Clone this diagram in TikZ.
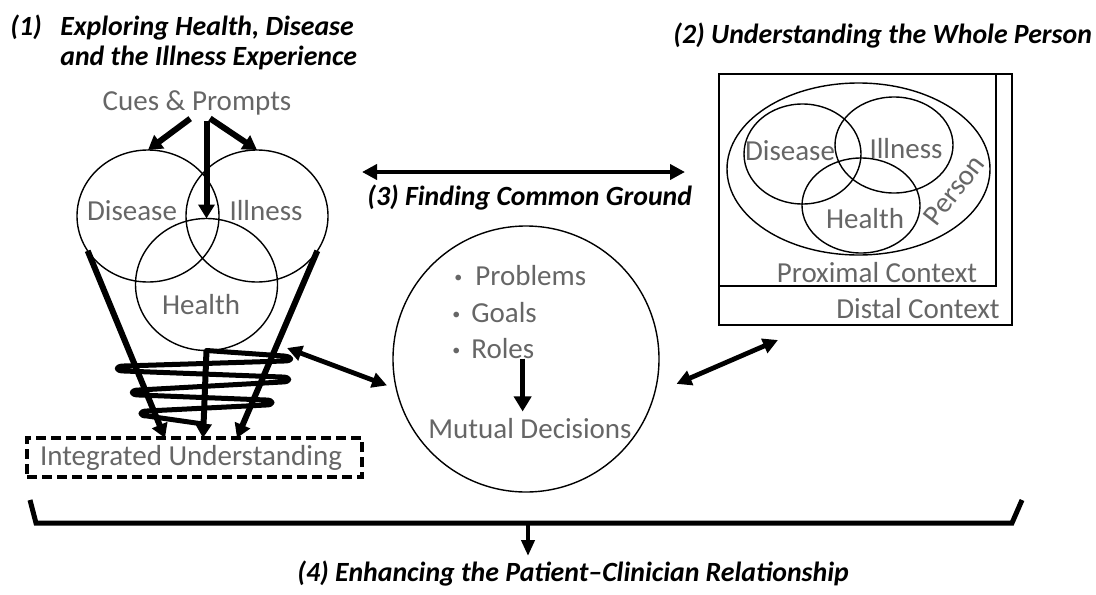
\documentclass[tikz,border=0pt]{standalone}
\usepackage{fontspec}
\setmainfont{Carlito}
\usetikzlibrary{arrows.meta,shapes.geometric,calc}

\definecolor{txtgray}{gray}{0.40}
\newcommand*{\lblfont}{\fontsize{14.5}{17}\selectfont}
\newcommand*{\ttlfont}{\fontsize{13.9}{16}\selectfont\bfseries\itshape}
\newcommand*{\bul}{{\fontsize{8}{8}\selectfont\raisebox{1.3pt}{•}}}

\begin{document}
\begin{tikzpicture}[x=0.5pt,y=-0.5pt,
	lbl/.style={text=txtgray,font=\lblfont,anchor=base,inner sep=0pt},
	ttl/.style={font=\ttlfont,anchor=base west,inner sep=0pt},
	venn/.style={draw,ellipse,inner sep=0pt,outer sep=0pt,line width=0.7pt},
	fat/.style={line width=3pt,-{Triangle[length=7pt,width=8pt]}},
	dbl/.style={line width=2.4pt,{Triangle[length=7.5pt,width=7.5pt]}-{Triangle[length=7.5pt,width=7.5pt]}},
	coil/.style={line width=2.5pt,line cap=round,line join=round}]

	\useasboundingbox (0,0) rectangle (1096,594);

	% titles
	\node[ttl] (t1num) at (10,35) {(1)};
	\node[ttl] (t1a) at (60,35) {Exploring Health, Disease};
	\node[ttl] (t1b) at (60,65) {and the Illness Experience};
	\node[ttl] (t2) at (673,43) {(2) Understanding the Whole Person};
	\node[ttl] (t3) at (367,205) {(3) Finding Common Ground};
	\node[ttl] (t4) at (297,581) {(4) Enhancing the Patient–Clinician Relationship};

	% (1) left venn
	\node[lbl] (cues) at (197,110) {Cues \& Prompts};
	\node[venn,minimum width=71pt,minimum height=66pt] (disL) at (148,216) {};
	\node[venn,minimum width=71pt,minimum height=66pt] (illL) at (257,216) {};
	\node[venn,minimum width=71pt,minimum height=66pt] (heaL) at (206.5,284.5) {};
	\node[lbl] (disLt) at (132,220) {Disease};
	\node[lbl] (illLt) at (266,220) {Illness};
	\node[lbl] (heaLt) at (201,314) {Health};

	\draw[fat,shorten <=3pt] ([xshift=-1pt]cues.south) -- (disL.north);
	\draw[fat,shorten <=3pt] ([xshift=4pt]cues.south) -- (illL.north);
	\draw[fat,shorten <=3pt] (heaL.north |- cues.south) -- (heaL.north);

	\node[draw,dashed,dash pattern=on 5pt off 2.5pt,line width=1.7pt,minimum width=167.5pt,minimum height=19.5pt,inner sep=0pt] (integ) at (194.5,457.5) {};
	\node[lbl] (integt) at (191,465) {Integrated Understanding};

	\coordinate (tipL) at (165,438);
	\coordinate (tipM) at (203,438);
	\coordinate (tipR) at (237,438);
	\draw[fat] (disL.210) -- (tipL);
	\draw[fat] (illL.-30) -- (tipR);
	\draw[coil] (heaL.south) -- (284,356) .. controls (293,357) and (293,361) .. (284,361)
		-- (124,366) .. controls (115,366) and (115,371) .. (124,371)
		-- (282,377) .. controls (291,377) and (291,382) .. (282,382)
		-- (139,390) .. controls (130,390) and (130,395) .. (139,395)
		-- (266,400) .. controls (274,400) and (274,405) .. (266,405)
		-- (147,411) .. controls (139,411) and (139,416) .. (147,416)
		-- (203,424);
	\draw[fat] (heaL.south) -- (tipM);

	% (3) common ground
	\node[draw,circle,line width=0.7pt,minimum size=133pt,inner sep=0pt,outer sep=0pt] (mid) at (526,359) {};
	\node[lbl,anchor=base west] (prob) at (454,285) {\bul\hspace{6.5pt}Problems};
	\node[lbl,anchor=base west] (goal) at (452,322) {\bul\hspace{5.5pt}Goals};
	\node[lbl,anchor=base west] (role) at (452,358) {\bul\hspace{5.5pt}Roles};
	\node[lbl] (mutual) at (530,438) {Mutual Decisions};
	\draw[line width=2.5pt,-{Triangle[length=7.5pt,width=8.5pt]},shorten >=3pt] ([xshift=-6pt]role.south east) -- ([xshift=-6pt]role.south east |- mutual.north);

	\coordinate (gl) at (362,172);
	\coordinate (gr) at (685,172);
	\draw[dbl] (gl) -- (gr);
	\coordinate (spiralE) at (287,348);
	\coordinate (boxSW) at (778,340);
	\draw[dbl,shorten >=5pt] (spiralE) -- (mid.193);
	\draw[dbl,shorten <=12pt] (mid.-15) -- (boxSW);

	% (2) whole person
	\draw[line width=0.7pt] (719,74) rectangle (1012,325);
	\draw[line width=0.7pt] (719,74) rectangle (996,286);
	\node[venn,minimum width=131.5pt,minimum height=86pt] (person) at (858.5,169) {};
	\node[venn,minimum width=58.5pt,minimum height=50pt] (disR) at (802.5,154) {};
	\node[venn,minimum width=59pt,minimum height=48pt] (illR) at (894,145) {};
	\node[venn,minimum width=59pt,minimum height=47.5pt] (heaR) at (861,205.5) {};
	\node[lbl] (disRt) at (790,160) {Disease};
	\node[lbl] (illRt) at (906,158) {Illness};
	\node[lbl] (heaRt) at (865,228) {Health};
	\node[lbl,anchor=center,rotate=52] (persont) at (954,190) {Person};
	\node[lbl] (proxt) at (877,282) {Proximal Context};
	\node[lbl] (distt) at (918,318) {Distal Context};

	% (4) bracket
	\coordinate (bl) at (30,500);
	\coordinate (br) at (1022,500);
	\coordinate (bm) at (528,523);
	\draw[line width=2.5pt,line join=miter] (bl) -- (36,523) -- (1012,523) -- (br);
	\draw[line width=2pt,-{Triangle[length=8pt,width=6.5pt]}] (bm) -- (528,556);

\end{tikzpicture}
\end{document}
